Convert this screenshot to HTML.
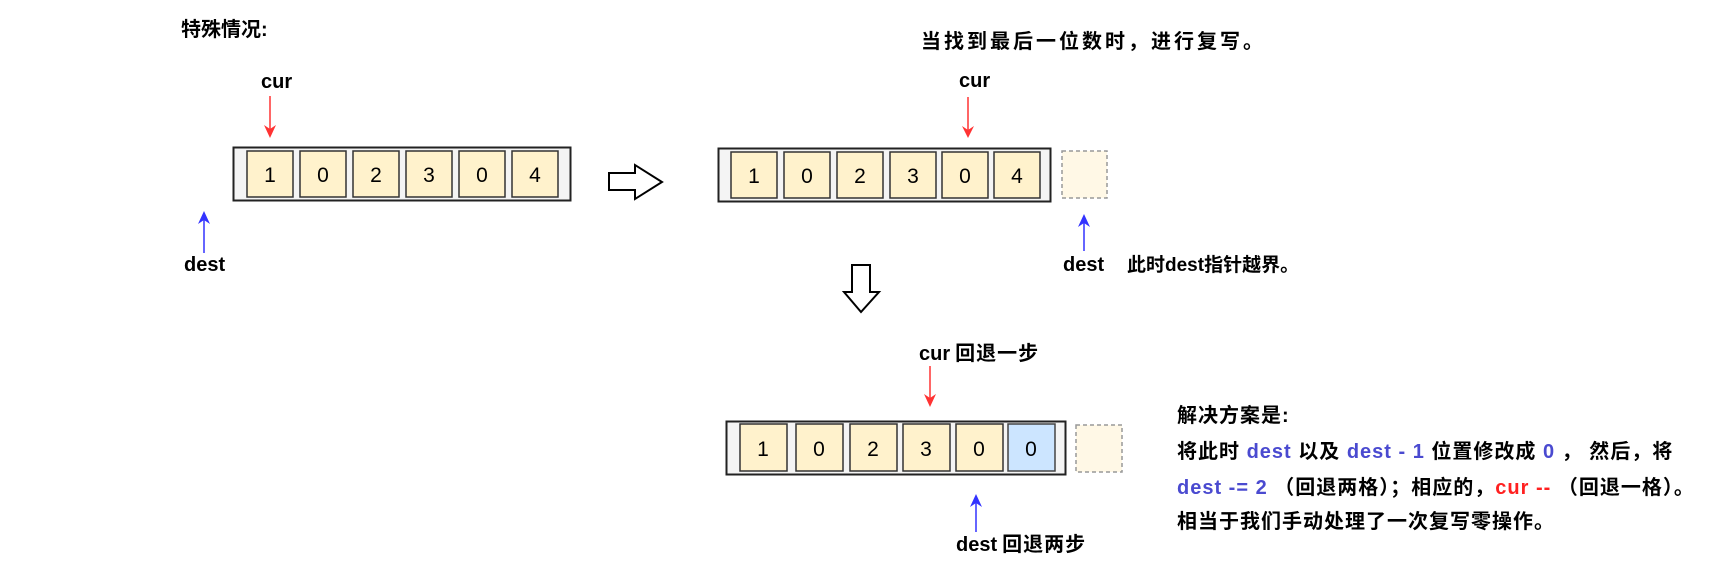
<!DOCTYPE html>
<html><head><meta charset="utf-8"><style>
html,body{margin:0;padding:0;background:#fff;}
svg{display:block;}
text{font-family:"Liberation Sans","Noto Sans CJK SC",sans-serif;}
.b{font-weight:bold;font-size:18px;fill:#000;}
.e{font-weight:bold;font-size:20px;letter-spacing:1px;fill:#000;}
.n{font-size:21px;fill:#000;text-anchor:middle;}
.bl{fill:#4a4ad0;}
.rd{fill:#ff2020;}
</style></head><body>
<svg width="1730" height="580" viewBox="0 0 1730 580" xmlns="http://www.w3.org/2000/svg">
<text class="b" x="181" y="36" style="font-size:20px">特殊情况:</text>
<text class="b" x="921" y="48" style="font-size:20px;letter-spacing:3px">当找到最后一位数时，进行复写。</text>

<!-- array 1 -->
<rect x="233.5" y="147.5" width="337" height="53" fill="#f4f4f4" stroke="#222" stroke-width="2"/>
<g fill="#fff2cc" stroke="#333" stroke-width="1.5">
<rect x="247" y="151" width="46" height="46"/><rect x="300" y="151" width="46" height="46"/><rect x="353" y="151" width="46" height="46"/><rect x="406" y="151" width="46" height="46"/><rect x="459" y="151" width="46" height="46"/><rect x="512" y="151" width="46" height="46"/></g>
<g><text class="n" x="270" y="182">1</text><text class="n" x="323" y="182">0</text><text class="n" x="376" y="182">2</text><text class="n" x="429" y="182">3</text><text class="n" x="482" y="182">0</text><text class="n" x="535" y="182">4</text></g>
<text class="b" x="261" y="88" style="font-size:20px">cur</text>
<line x1="270" y1="96" x2="270" y2="131" stroke="#ff3333" stroke-width="1.5"/>
<path d="M264,125 L270,138 L276,125 L270,129 Z" fill="#ff3333"/>
<line x1="204" y1="253" x2="204" y2="217" stroke="#3333ff" stroke-width="1.5"/>
<path d="M198,224 L204,211 L210,224 L204,220 Z" fill="#3333ff"/>
<text class="b" x="184" y="271" style="font-size:20px">dest</text>

<!-- hollow right arrow -->
<path d="M609,173 L635,173 L635,165 L662,182 L635,199 L635,190 L609,190 Z" fill="#fff" stroke="#000" stroke-width="2"/>

<!-- array 2 -->
<rect x="718.5" y="148.5" width="332" height="53" fill="#f4f4f4" stroke="#222" stroke-width="2"/>
<g fill="#fff2cc" stroke="#333" stroke-width="1.5">
<rect x="731" y="152" width="46" height="46"/><rect x="784" y="152" width="46" height="46"/><rect x="837" y="152" width="46" height="46"/><rect x="890" y="152" width="46" height="46"/><rect x="942" y="152" width="46" height="46"/><rect x="994" y="152" width="46" height="46"/></g>
<g><text class="n" x="754" y="183">1</text><text class="n" x="807" y="183">0</text><text class="n" x="860" y="183">2</text><text class="n" x="913" y="183">3</text><text class="n" x="965" y="183">0</text><text class="n" x="1017" y="183">4</text></g>
<rect x="1062" y="151" width="45" height="47" fill="#fff8e6" stroke="#999" stroke-width="1.5" stroke-dasharray="4,3"/>
<text class="b" x="959" y="87" style="font-size:20px">cur</text>
<line x1="968" y1="97" x2="968" y2="132" stroke="#ff3333" stroke-width="1.5"/>
<path d="M962,126 L968,138 L974,126 L968,130 Z" fill="#ff3333"/>
<line x1="1084" y1="251" x2="1084" y2="220" stroke="#3333ff" stroke-width="1.5"/>
<path d="M1078,227 L1084,214 L1090,227 L1084,223 Z" fill="#3333ff"/>
<text class="b" x="1063" y="271" style="font-size:20px">dest</text>
<text class="b" x="1127" y="271" style="font-size:19px">此时dest指针越界。</text>

<!-- hollow down arrow -->
<path d="M852,265 L870,265 L870,292 L879,292 L861,312 L844,292 L852,292 Z" fill="#fff" stroke="#000" stroke-width="2"/>

<!-- array 3 -->
<rect x="726.5" y="421.5" width="339" height="53" fill="#f4f4f4" stroke="#222" stroke-width="2"/>
<g fill="#fff2cc" stroke="#333" stroke-width="1.5">
<rect x="740" y="424" width="47" height="47"/><rect x="796" y="424" width="47" height="47"/><rect x="850" y="424" width="47" height="47"/><rect x="903" y="424" width="47" height="47"/><rect x="956" y="424" width="47" height="47"/></g>
<rect x="1008" y="424" width="47" height="47" fill="#cce5ff" stroke="#444" stroke-width="1.5"/>
<g><text class="n" x="763" y="456">1</text><text class="n" x="819" y="456">0</text><text class="n" x="873" y="456">2</text><text class="n" x="926" y="456">3</text><text class="n" x="979" y="456">0</text><text class="n" x="1031" y="456">0</text></g>
<rect x="1076" y="425" width="46" height="47" fill="#fff8e6" stroke="#999" stroke-width="1.5" stroke-dasharray="4,3"/>
<text class="b" x="919" y="360"><tspan style="font-size:20px">cur</tspan> <tspan style="font-size:20px;letter-spacing:1px">回退一步</tspan></text>
<line x1="930" y1="366" x2="930" y2="400" stroke="#ff3333" stroke-width="1.5"/>
<path d="M924,394 L930,407 L936,394 L930,398 Z" fill="#ff3333"/>
<line x1="976" y1="532" x2="976" y2="500" stroke="#3333ff" stroke-width="1.5"/>
<path d="M970,507 L976,494 L982,507 L976,503 Z" fill="#3333ff"/>
<text class="b" x="956" y="551"><tspan style="font-size:20px">dest</tspan> <tspan style="font-size:20px;letter-spacing:1px">回退两步</tspan></text>

<!-- explanation -->
<text class="e" x="1177" y="422">解决方案是:</text>
<text class="e" x="1177" y="458">将此时 <tspan class="bl">dest</tspan> 以及 <tspan class="bl">dest - 1</tspan> 位置修改成 <tspan class="bl">0</tspan> ，  然后，将</text>
<text class="e" x="1177" y="494"><tspan class="bl">dest -= 2</tspan> （回退两格）；相应的，<tspan class="rd">cur --</tspan> （回退一格）。</text>
<text class="e" x="1177" y="528">相当于我们手动处理了一次复写零操作。</text>
</svg>
</body></html>
